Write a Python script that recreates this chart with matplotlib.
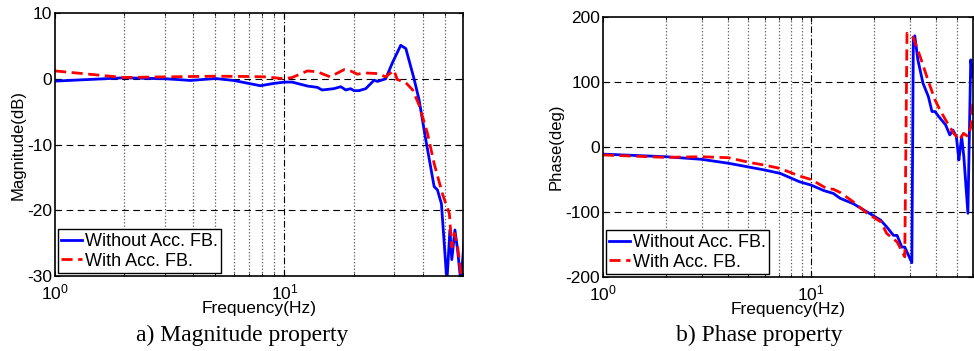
import numpy as np
import matplotlib.pyplot as plt
from matplotlib.ticker import LogLocator, NullFormatter, FixedLocator

# magnitude response (dB)
mag_f_wo = [1.0, 1.99, 3.07, 3.89, 5.0, 6.0, 6.98, 7.86, 8.98, 10.0, 10.8, 12.6, 13.9, 14.6,
            16.4, 17.6, 18.5, 19.4, 20.1, 21.1, 22.6, 24.6, 25.4, 27.6, 29.5, 32.1, 33.8,
            36.7, 38.6, 41.3, 44.9, 46.4, 48.3, 50.5, 51.0, 52.6, 53.6, 55.3, 56.8, 58.7, 60.7]
mag_wo = [-0.35, 0.15, 0.0, -0.25, 0.05, -0.25, -0.7, -1.05, -0.7, -0.5, -0.5, -1.1, -1.3, -1.7,
          -1.5, -1.2, -1.7, -1.5, -1.8, -1.8, -1.5, -0.2, -0.4, 0.0, 2.4, 5.1, 4.6,
          0.0, -3.2, -9.3, -16.4, -16.9, -19.0, -28.6, -31.0, -23.0, -27.5, -23.0, -26.0, -31.0, -24.5]

mag_f_w = [1.0, 1.99, 3.07, 5.0, 6.98, 8.3, 10.0, 10.8, 12.6, 13.9, 15.8, 18.2, 19.4, 20.8,
           22.2, 25.4, 27.6, 30.0, 31.0, 33.8, 36.2, 38.6, 42.0, 44.9, 48.8, 52.3, 53.6,
           55.0, 56.8, 58.9]
mag_w = [1.2, 0.2, 0.3, 0.4, 0.35, 0.3, 0.0, 0.2, 1.2, 1.07, 0.3, 1.4, 1.2, 0.7,
         0.9, 0.8, 0.3, 1.3, -0.1, -0.6, -1.7, -4.0, -8.3, -12.9, -17.5, -20.5, -25.6,
         -23.5, -25.5, -30.0]

# phase response (deg)
ph_f_wo = [1.0, 2.0, 2.98, 4.0, 6.0, 7.1, 8.8, 10.0, 11.5, 12.8, 13.8, 15.9, 18.6, 21.6,
           23.1, 24.9, 25.9, 27.3, 28.2, 30.5, 31.0, 31.5, 32.6, 34.5, 36.6, 38.1, 39.4,
           41.0, 44.3, 46.4, 48.0, 49.9, 51.3, 52.1, 52.9, 54.2, 56.7, 58.5, 60.0]
ph_wo = [-11, -15, -19, -25, -35.5, -40.6, -53.5, -58.6, -67, -71.5, -79, -87, -100, -112.6,
         -123, -136, -136, -154, -154, -178, 165, 171, 134, 98, 77.6, 54.5, 54.5,
         47, 34, 18.5, 26, 16, -20, -2, 16, -15, -102, 134, 108]

ph_f_w = [1.0, 2.0, 2.98, 4.0, 5.1, 6.0, 7.1, 8.8, 10.0, 11.9, 12.8, 13.8, 15.9, 18.6,
          21.6, 23.1, 25.9, 28.2, 28.9, 31.0, 33.6, 36.6, 39.4, 41.6, 44.3, 48.4, 51.7,
          54.0, 56.7, 58.6, 60.0]
ph_w = [-12.3, -16, -15, -16.5, -24, -28, -33, -44.7, -50, -64, -65, -70, -84, -102,
        -115, -133, -146, -169, 175, 168, 137, 101, 72.5, 57, 41.6, 21, 11,
        21, 16, 31, 72]

plt.rcParams['font.family'] = ['Liberation Sans', 'DejaVu Sans']
plt.rcParams['axes.unicode_minus'] = False
plt.rcParams['mathtext.fontset'] = 'custom'
plt.rcParams['mathtext.rm'] = 'Liberation Sans'
plt.rcParams['mathtext.it'] = 'Liberation Sans'

fig = plt.figure(figsize=(9.74, 3.51), dpi=100)
ax1 = fig.add_axes([0.0565, 0.2137, 0.4189, 0.749])
ax2 = fig.add_axes([0.619, 0.2108, 0.380, 0.741])


def setup(ax, ylim, yticks, ylabel):
    ax.set_xscale('log')
    ax.set_xlim(1, 60)
    ax.set_ylim(*ylim)
    ax.yaxis.set_major_locator(FixedLocator(yticks))
    ax.xaxis.set_major_locator(FixedLocator([1, 10]))
    ax.set_xticklabels([r'$10^0$', r'$10^1$'])
    ax.xaxis.set_minor_locator(LogLocator(base=10, subs=np.arange(2, 10)))
    ax.xaxis.set_minor_formatter(NullFormatter())
    ax.tick_params(which='both', direction='in', top=True, right=True, labelsize=12.5)
    ax.tick_params(axis='x', pad=5)
    ax.tick_params(axis='y', pad=2)
    # grid lines
    ax.grid(False)
    for f in [2, 3, 4, 5, 6, 7, 8, 9, 20, 30, 40, 50]:
        ax.axvline(f, color='0.35', ls=':', lw=0.9, zorder=0)
    ax.axvline(10, color='k', ls=(0, (6, 2, 1, 2)), lw=0.8, zorder=0)
    for yv in yticks[1:-1]:
        ax.axhline(yv, color='k', ls=(0, (6, 4)), lw=0.8, zorder=0)
    for s in ax.spines.values():
        s.set_linewidth(1.2)
    ax.set_xlabel('Frequency(Hz)', fontsize=12.5, labelpad=-1)
    ax.set_ylabel(ylabel, fontsize=12, labelpad=1)


setup(ax1, (-30, 10), [-30, -20, -10, 0, 10], 'Magnitude(dB)')
setup(ax2, (-200, 200), [-200, -100, 0, 100, 200], 'Phase(deg)')

for ax, fw, vw, fr, vr in [(ax1, mag_f_wo, mag_wo, mag_f_w, mag_w),
                           (ax2, ph_f_wo, ph_wo, ph_f_w, ph_w)]:
    ax.plot(fw, vw, color='#0000ff', lw=2, label='Without Acc. FB.')
    ax.plot(fr, vr, color='#ff0000', lw=2, ls=(0, (4, 2)), label='With Acc. FB.')
    leg = ax.legend(loc='lower left', fontsize=13, frameon=True, fancybox=False,
                    borderaxespad=0.15, handlelength=1.15, handletextpad=0.15,
                    borderpad=0.2, labelspacing=0.15)
    leg.get_frame().set_edgecolor('k')
    leg.get_frame().set_linewidth(1.0)
    leg.get_frame().set_alpha(1)

fig.text(0.249, 0.045, 'a) Magnitude property', ha='center', va='center',
         fontsize=17, family='Liberation Serif')
fig.text(0.78, 0.045, 'b) Phase property', ha='center', va='center',
         fontsize=17, family='Liberation Serif')

fig.savefig('out.png', dpi=100)
